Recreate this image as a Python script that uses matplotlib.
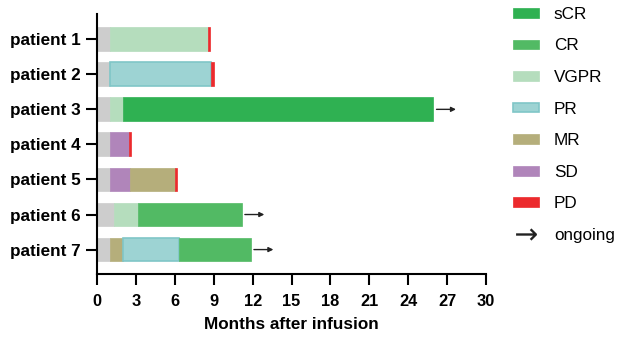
import matplotlib.pyplot as plt
from matplotlib.patches import Patch
from matplotlib.lines import Line2D

plt.rcParams['font.family'] = ['Liberation Sans', 'DejaVu Sans']

patients = ['patient 1', 'patient 2', 'patient 3', 'patient 4', 'patient 5', 'patient 6', 'patient 7']
# состояния по отрезкам и конец каждого отрезка (месяцы)
seg_states = [
    ['pre', 'VGPR', 'PD'],
    ['pre', 'PR', 'PD'],
    ['pre', 'VGPR', 'sCR'],
    ['pre', 'SD', 'PD'],
    ['pre', 'SD', 'MR', 'PD'],
    ['pre', 'VGPR', 'CR'],
    ['pre', 'MR', 'PR', 'CR'],
]
seg_ends = [
    [1.0, 8.55, 8.75],
    [1.0, 8.8, 9.05],
    [1.0, 2.0, 25.93],
    [1.0, 2.45, 2.6],
    [1.0, 2.55, 6.0, 6.2],
    [1.3, 3.15, 11.15],
    [1.0, 2.0, 6.3, 11.85],
]
ongoing = [False, False, True, False, False, True, True]

legend_states = ['sCR', 'CR', 'VGPR', 'PR', 'MR', 'SD', 'PD']
colors = {
    'pre': '#CDCDCD',
    'sCR': '#2FB152',
    'CR': '#52BA64',
    'VGPR': '#B5DDBD',
    'PR': '#9DD3D3',
    'MR': '#B5AE7B',
    'SD': '#B085BA',
    'PD': '#EC2A2D',
}
edges = {'PR': '#80C6C7'}

fig = plt.figure(figsize=(6.18, 3.38), dpi=100)
ax = fig.add_axes([0.157, 0.189, 0.6295, 0.7696])

for i, (states, ends) in enumerate(zip(seg_states, seg_ends)):
    start = 0
    for st, end in zip(states, ends):
        ec = edges.get(st, colors[st])
        ax.barh(i, end - start, left=start, height=0.68, color=colors[st],
                edgecolor=ec, linewidth=1.2 if st == 'PR' else 0.5)
        start = end
    if ongoing[i]:
        ax.annotate('', xy=(start + 1.75, i), xytext=(start + 0.25, i),
                    arrowprops=dict(arrowstyle='-|>', lw=1.0, color='#222222',
                                    mutation_scale=7, shrinkA=0, shrinkB=0))

ax.set_ylim(6.7, -0.72)
ax.set_xlim(0, 30)
ax.set_xticks(range(0, 31, 3))
ax.set_yticks(range(len(patients)))
ax.set_yticklabels(patients, fontsize=12.3, fontweight='bold')
ax.tick_params(axis='x', labelsize=11.8, width=1.5, length=8, pad=6)
ax.tick_params(axis='y', width=1.5, length=8)
for lab in ax.get_xticklabels():
    lab.set_fontweight('bold')
ax.set_xlabel('Months after infusion', fontsize=12.3, fontweight='bold', labelpad=6)

ax.spines['top'].set_visible(False)
ax.spines['right'].set_visible(False)
ax.spines['left'].set_linewidth(1.5)
ax.spines['bottom'].set_linewidth(1.5)

handles = [Patch(facecolor=colors[s], edgecolor=edges.get(s, colors[s]), linewidth=1.2 if s == 'PR' else 0.5)
           for s in legend_states]
handles.append(Line2D([0], [0], linestyle='none', marker=r'$\rightarrow$', markersize=15,
                      markeredgewidth=0, color='#222222'))
fig.legend(handles, legend_states + ['ongoing'], loc='upper left', bbox_to_anchor=(0.805, 1.025),
           frameon=False, fontsize=12.3, handlelength=1.55, handleheight=0.5, handletextpad=0.85,
           labelspacing=0.97)

plt.savefig('out.png', dpi=100)
